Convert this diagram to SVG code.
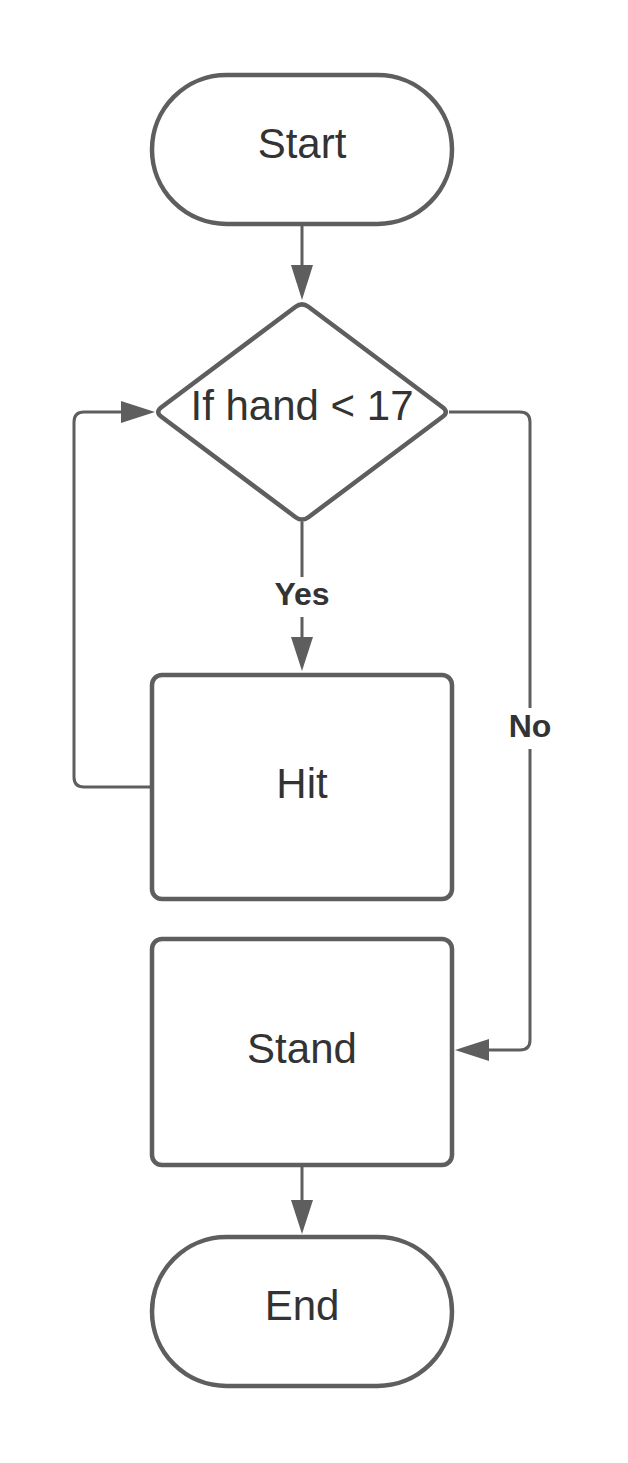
<svg xmlns="http://www.w3.org/2000/svg" width="628" height="1463" viewBox="0 0 628 1463">
<style>
.shape{fill:#ffffff;stroke:#5e5e5e;stroke-width:4.5}
.lbl{font-family:"Liberation Sans",Arial,sans-serif;font-size:42px;fill:#333333;text-anchor:middle}
.elbl{font-family:"Liberation Sans",Arial,sans-serif;font-size:32px;font-weight:bold;fill:#333333;text-anchor:middle}
.conn{fill:none;stroke:#5e5e5e;stroke-width:3}
.head{fill:#5e5e5e;stroke:none}
</style>
<rect width="628" height="1463" fill="#ffffff"/>
<g id="connectors">
<path class="conn" d="M302,225 V266"/>
<polygon class="head" points="291,265 313,265 302,300"/>
<path class="conn" d="M302,522 V577 M302,617 V638"/>
<polygon class="head" points="291,637 313,637 302,671"/>
<text class="elbl" x="302" y="605">Yes</text>
<path class="conn" d="M150,787 H84 Q74,787 74,777 V422 Q74,412 84,412 H122"/>
<polygon class="head" points="121,401 121,423 155,412"/>
<path class="conn" d="M449,412 H520 Q530,412 530,422 V708 M530,749 V1040 Q530,1050 520,1050 H488"/>
<polygon class="head" points="489,1039 489,1061 455,1050"/>
<text class="elbl" x="530" y="737">No</text>
<path class="conn" d="M302,1167 V1201"/>
<polygon class="head" points="291,1200 313,1200 302,1234"/>
</g>
<g id="start">
<rect class="shape" x="152" y="75" width="300" height="149" rx="74.5"/>
<text class="lbl" x="302" y="158">Start</text>
</g>
<g id="decision">
<path class="shape" d="M295.6,306.8 Q302,302 308.4,306.8 L442.6,407.2 Q449,412 442.6,416.8 L308.4,517.2 Q302,522 295.6,517.2 L161.4,416.8 Q155,412 161.4,407.2 Z"/>
<text class="lbl" x="302" y="420">If hand &lt; 17</text>
</g>
<g id="hit">
<rect class="shape" x="152" y="675" width="300" height="224" rx="10"/>
<text class="lbl" x="302" y="798">Hit</text>
</g>
<g id="stand">
<rect class="shape" x="152" y="939" width="300" height="226" rx="10"/>
<text class="lbl" x="302" y="1063">Stand</text>
</g>
<g id="end">
<rect class="shape" x="152" y="1237" width="300" height="149" rx="74.5"/>
<text class="lbl" x="302" y="1320">End</text>
</g>
</svg>
